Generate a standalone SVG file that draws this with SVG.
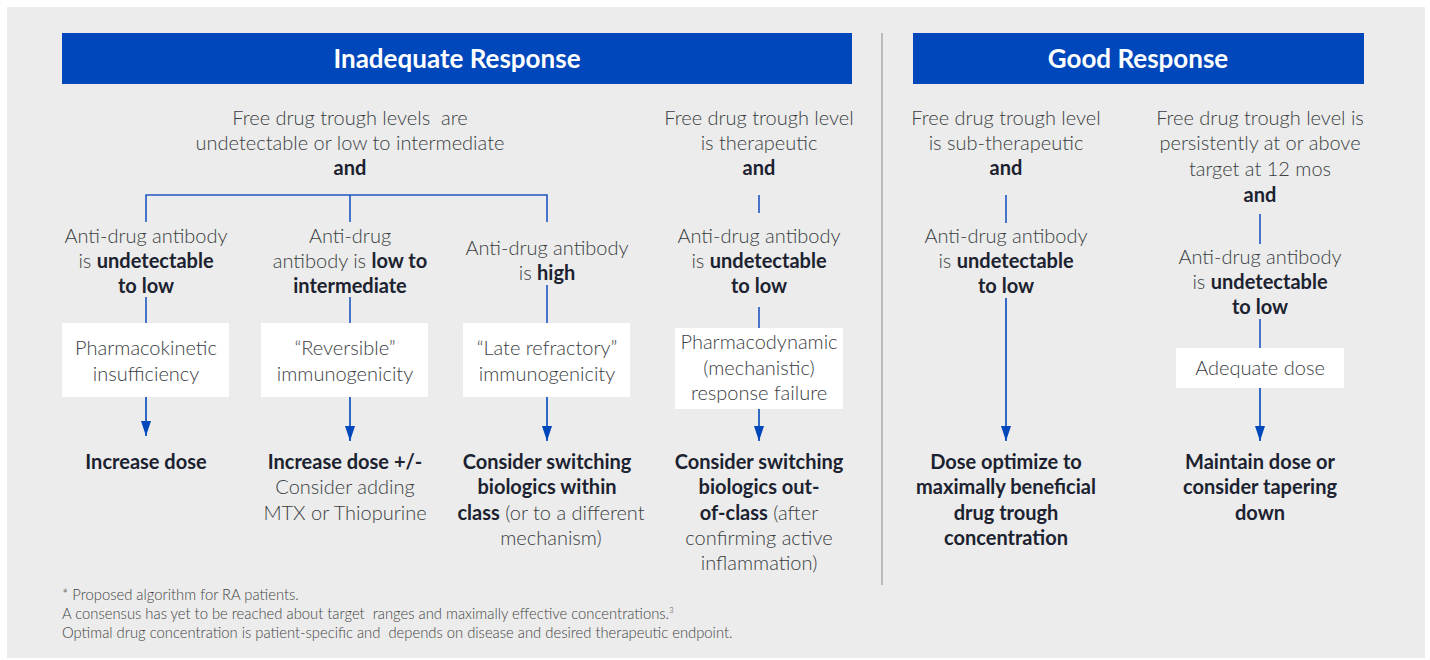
<svg xmlns="http://www.w3.org/2000/svg" width="1430" height="660" viewBox="0 0 1430 660">
<defs>
<marker id="arr" viewBox="0 0 15 10" refX="15" refY="5" markerWidth="15" markerHeight="10" markerUnits="userSpaceOnUse" orient="auto">
<path d="M0,0 L15,5 L0,10 Z" fill="#0047BB"/>
</marker>
<style>
text{white-space:pre}
.t{font-family:Lato,"Liberation Sans",sans-serif;font-weight:300;font-size:20px;fill:#3a3d42;text-anchor:middle}
.b{font-weight:700;fill:#1c2230}
.h{font-family:Lato,"Liberation Sans",sans-serif;font-weight:700;font-size:26px;fill:#fff;text-anchor:middle}
.f{font-family:Lato,"Liberation Sans",sans-serif;font-weight:300;font-size:14.8px;fill:#444}
.ln{stroke:#1f55c4;stroke-width:1.6;fill:none}
.ar{stroke:#0047BB;stroke-width:1.6;fill:none;marker-end:url(#arr)}
.box{fill:#fff}
</style>
</defs>
<rect x="0" y="0" width="1430" height="660" fill="#fff"/>
<rect x="7" y="7" width="1418" height="651" fill="#ebeceb"/>
<line x1="882" y1="33" x2="882" y2="585" stroke="#9a9a9a" stroke-width="1.2"/>

<g id="header-inadequate">
<rect x="62" y="33" width="790" height="51" fill="#0047BB"/>
<text class="h" x="457" y="68">Inadequate Response</text>
</g>
<g id="header-good">
<rect x="913" y="33" width="451" height="51" fill="#0047BB"/>
<text class="h" x="1138" y="68">Good Response</text>
</g>

<g id="connectors">
<path class="ln" d="M146,222 V195 H547 V222 M350,195 V222"/>
<line class="ln" x1="146" y1="297" x2="146" y2="323"/>
<line class="ln" x1="350" y1="297" x2="350" y2="323"/>
<line class="ln" x1="547" y1="285" x2="547" y2="323"/>
<line class="ar" x1="146" y1="397" x2="146" y2="436"/>
<line class="ar" x1="350" y1="397" x2="350" y2="441"/>
<line class="ar" x1="547" y1="397" x2="547" y2="441"/>
<line class="ln" x1="759" y1="195" x2="759" y2="213"/>
<line class="ln" x1="759" y1="307" x2="759" y2="328"/>
<line class="ar" x1="759" y1="409" x2="759" y2="441"/>
<line class="ln" x1="1006" y1="195" x2="1006" y2="223"/>
<line class="ar" x1="1006" y1="298" x2="1006" y2="441"/>
<line class="ln" x1="1260" y1="214" x2="1260" y2="244"/>
<line class="ln" x1="1260" y1="319" x2="1260" y2="348"/>
<line class="ar" x1="1260" y1="388" x2="1260" y2="441"/>
</g>

<g id="cond-inadequate">
<text class="t" x="350" y="125">Free drug trough levels  are</text>
<text class="t" x="350" y="150">undetectable or low to intermediate</text>
<text class="t b" x="350" y="175">and</text>
</g>

<g id="ada-1">
<text class="t" x="146" y="243">Anti-drug antibody</text>
<text class="t" x="146" y="268">is <tspan class="b">undetectable</tspan></text>
<text class="t b" x="146" y="293">to low</text>
</g>
<g id="ada-2">
<text class="t" x="350" y="243">Anti-drug</text>
<text class="t" x="350" y="268">antibody is <tspan class="b">low to</tspan></text>
<text class="t b" x="350" y="293">intermediate</text>
</g>
<g id="ada-3">
<text class="t" x="547" y="255">Anti-drug antibody</text>
<text class="t" x="547" y="280">is <tspan class="b">high</tspan></text>
</g>

<g id="box-1">
<rect class="box" x="62" y="323" width="167" height="74"/>
<text class="t" x="146" y="355">Pharmacokinetic</text>
<text class="t" x="146" y="381">insufficiency</text>
</g>
<g id="box-2">
<rect class="box" x="261" y="323" width="167" height="74"/>
<text class="t" x="345" y="355">“Reversible”</text>
<text class="t" x="345" y="381">immunogenicity</text>
</g>
<g id="box-3">
<rect class="box" x="463" y="323" width="167" height="74"/>
<text class="t" x="547" y="355">“Late refractory”</text>
<text class="t" x="547" y="381">immunogenicity</text>
</g>

<g id="result-1">
<text class="t b" x="146" y="469">Increase dose</text>
</g>
<g id="result-2">
<text class="t b" x="345" y="469">Increase dose +/-</text>
<text class="t" x="345" y="494">Consider adding</text>
<text class="t" x="345" y="520">MTX or Thiopurine</text>
</g>
<g id="result-3">
<text class="t b" x="547" y="469">Consider switching</text>
<text class="t b" x="547" y="494">biologics within</text>
<text class="t" x="551" y="520"><tspan class="b">class</tspan> (or to a different</text>
<text class="t" x="551" y="545">mechanism)</text>
</g>

<g id="col-therapeutic">
<text class="t" x="759" y="125">Free drug trough level</text>
<text class="t" x="759" y="150">is therapeutic</text>
<text class="t b" x="759" y="175">and</text>
<text class="t" x="759" y="243">Anti-drug antibody</text>
<text class="t" x="759" y="268">is <tspan class="b">undetectable</tspan></text>
<text class="t b" x="759" y="293">to low</text>
</g>
<g id="box-4">
<rect class="box" x="675" y="328" width="168" height="81"/>
<text class="t" x="759" y="349">Pharmacodynamic</text>
<text class="t" x="759" y="375">(mechanistic)</text>
<text class="t" x="759" y="400">response failure</text>
</g>
<g id="result-4">
<text class="t b" x="759" y="469">Consider switching</text>
<text class="t b" x="759" y="494">biologics out-</text>
<text class="t" x="759" y="520"><tspan class="b">of-class</tspan> (after</text>
<text class="t" x="759" y="545">confirming active</text>
<text class="t" x="759" y="570">inflammation)</text>
</g>

<g id="col-subtherapeutic">
<text class="t" x="1006" y="125">Free drug trough level</text>
<text class="t" x="1006" y="150">is sub-therapeutic</text>
<text class="t b" x="1006" y="175">and</text>
<text class="t" x="1006" y="243">Anti-drug antibody</text>
<text class="t" x="1006" y="268">is <tspan class="b">undetectable</tspan></text>
<text class="t b" x="1006" y="293">to low</text>
</g>
<g id="result-5">
<text class="t b" x="1006" y="469">Dose optimize to</text>
<text class="t b" x="1006" y="494">maximally beneficial</text>
<text class="t b" x="1006" y="520">drug trough</text>
<text class="t b" x="1006" y="545">concentration</text>
</g>

<g id="col-target">
<text class="t" x="1260" y="125">Free drug trough level is</text>
<text class="t" x="1260" y="150">persistently at or above</text>
<text class="t" x="1260" y="176">target at 12 mos</text>
<text class="t b" x="1260" y="202">and</text>
<text class="t" x="1260" y="264">Anti-drug antibody</text>
<text class="t" x="1260" y="289">is <tspan class="b">undetectable</tspan></text>
<text class="t b" x="1260" y="314">to low</text>
</g>
<g id="box-6">
<rect class="box" x="1176" y="348" width="168" height="40"/>
<text class="t" x="1260" y="375">Adequate dose</text>
</g>
<g id="result-6">
<text class="t b" x="1260" y="469">Maintain dose or</text>
<text class="t b" x="1260" y="494">consider tapering</text>
<text class="t b" x="1260" y="520">down</text>
</g>

<g id="footnotes">
<text class="f" x="62" y="600">* Proposed algorithm for RA patients.</text>
<text class="f" x="62" y="619">A consensus has yet to be reached about target  ranges and maximally effective concentrations.<tspan font-size="8" dy="-6">3</tspan></text>
<text class="f" x="62" y="638">Optimal drug concentration is patient-specific and  depends on disease and desired therapeutic endpoint.</text>
</g>
</svg>
